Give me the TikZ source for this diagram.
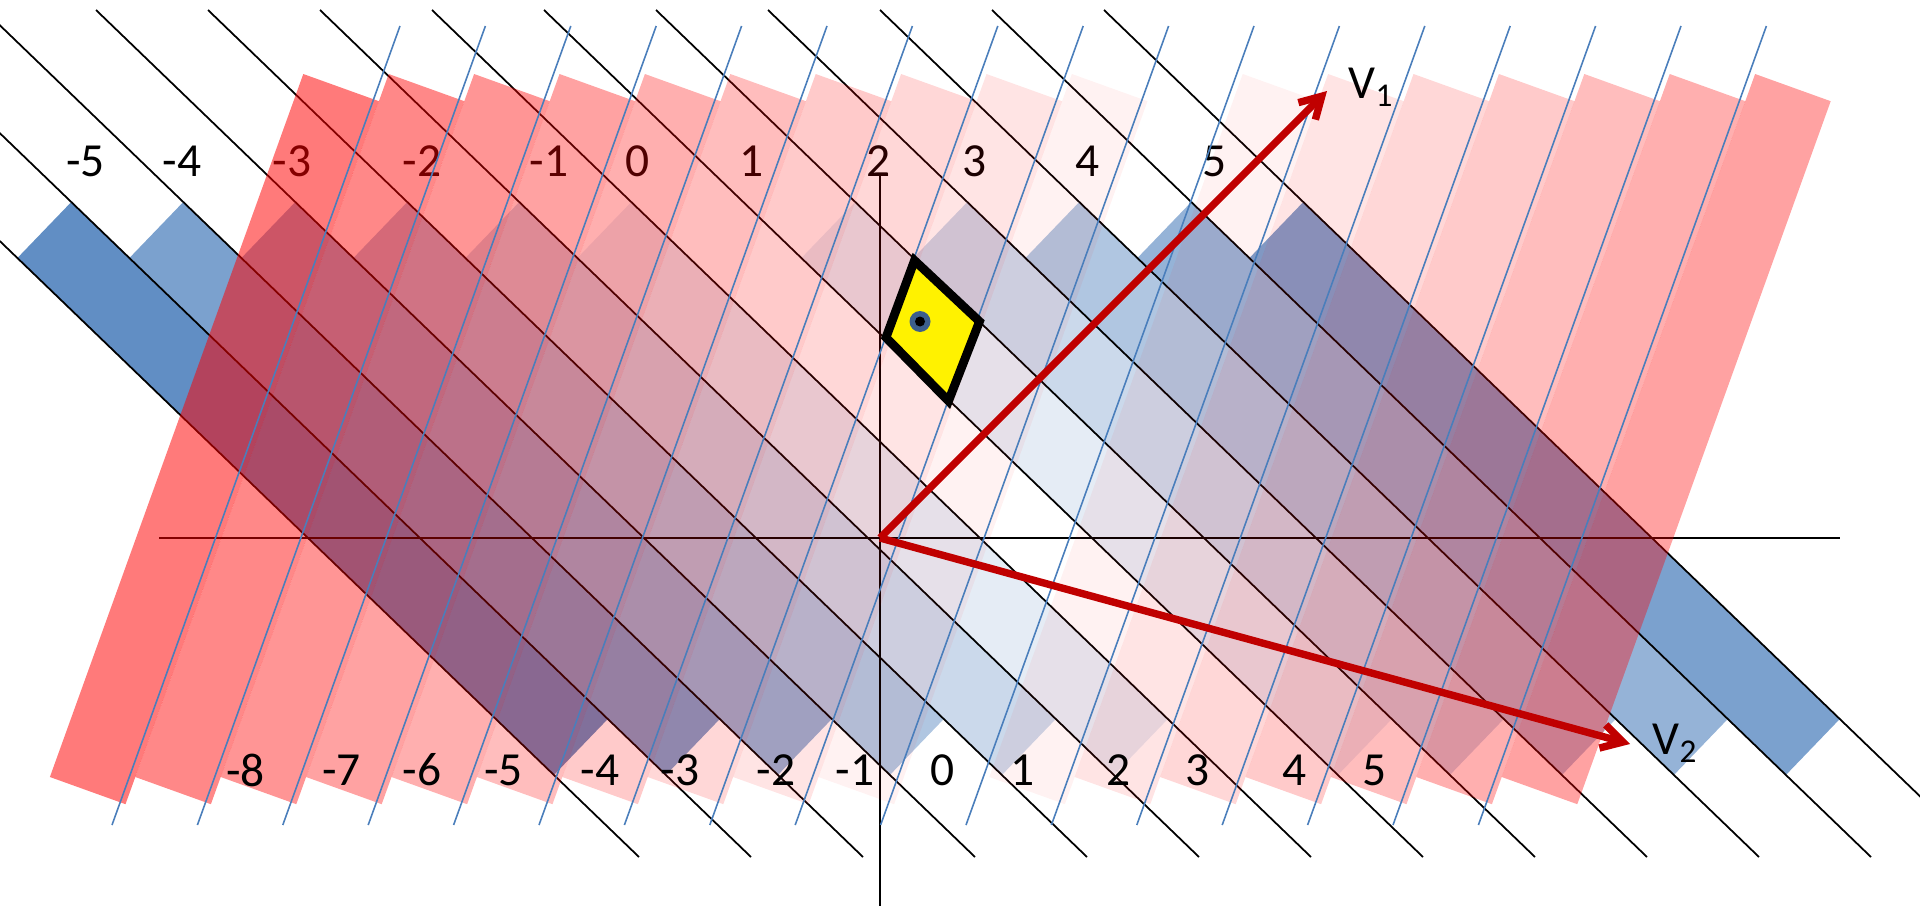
\documentclass[tikz,border=0pt]{standalone}
\usepackage{fontspec}
\setmainfont{Carlito}
\usetikzlibrary{arrows.meta}

\definecolor{bandblue}{HTML}{4F81BD}
\definecolor{bandred}{HTML}{FF0000}
\definecolor{gridblue}{HTML}{4A7EBB}
\definecolor{vecred}{HTML}{C00000}
\definecolor{dotblue}{HTML}{3C5F8C}

\begin{document}
\begin{tikzpicture}[x=0.01cm,y=-0.01cm,
        every node/.style={font=\fontsize{13.5}{16}\selectfont,inner sep=0pt},
        gridline/.style={line width=0.5pt},
        bluegrid/.style={gridblue,line width=0.45pt},
        vec/.style={vecred,line width=2.1pt,-{Straight Barb[length=2.1mm,width=2.4mm]}}]
    \useasboundingbox (0,0) rectangle (1920,906);
    \clip (0,0) rectangle (1920,906);

    \foreach \k in {-3,...,8}{
        \pgfmathsetmacro\op{0.15*abs(\k-3)}
        \fill[bandblue,fill opacity=\op] ({353.4+112*(\k)},258) -- ({407.3+112*(\k)},202)
            -- ({943.8+112*(\k)},719) -- ({889.9+112*(\k)},775) -- cycle;
    }

    \foreach \k in {-3,...,9}
        \draw[gridline] ({96+112*(\k)},10) -- ({975+112*(\k)},857);

    \coordinate (O) at (880,538);
    \coordinate (xl) at (159,538);
    \coordinate (xr) at (1840,538);
    \coordinate (yt) at (880,173);
    \coordinate (yb) at (880,906);
    \draw[gridline] (xl) -- (xr);
    \draw[gridline] (yt) -- (yb);

    \foreach \n/\x in {-5/85.7,-4/182,-3/292,-2/422,-1/549,0/638,1/752,2/878.6,3/974.5,4/1087.5,5/1214.7}
        \node (top\n) at (\x,161) {\n};

    \foreach \j in {-1,...,16}{
        \pgfmathsetmacro\op{0.052*abs(\j-9)}
        \fill[bandred,fill opacity=\op] ({388.7+85.4*(\j)},74) -- ({464.3+85.4*(\j)},101.2)
            -- ({210.9+85.4*(\j)},804.2) -- ({135.3+85.4*(\j)},777) -- cycle;
    }

    \foreach \j in {0,...,16}
        \draw[bluegrid] ({400+85.4*\j},26) -- ({112+85.4*\j},825);

    \foreach \n/\x in {-8/245.5,-7/341.5,-6/422,-5/503.5,-4/600,-3/680,-2/776,-1/855,0/943,1/1023,2/1119,3/1198,4/1295,5/1375}
        \node (bot\n) at (\x,770) {\n};

    \draw[line width=2.5pt,fill=yellow] (886,337.5) -- (914.5,260.5) -- (979.5,321.5) -- (948.5,401) -- cycle;
    \fill[dotblue] (920,321.5) circle (10.5);
    \fill[black] (920,321.5) circle (5);

    \coordinate (v1) at (1327,91);
    \coordinate (v2) at (1630,744);
    \draw[vec] (O) -- (v1);
    \draw[vec] (O) -- (v2);
    \node[anchor=west] (lv1) at (1348,87) {V\textsubscript{1}};
    \node[anchor=west] (lv2) at (1652,743) {V\textsubscript{2}};
\end{tikzpicture}
\end{document}
